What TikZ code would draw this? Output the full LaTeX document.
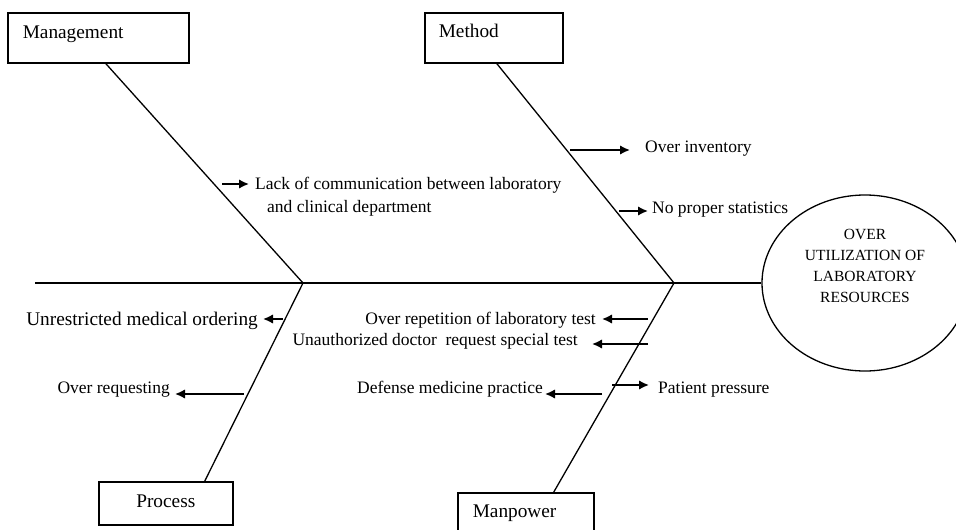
\documentclass[tikz,border=0pt]{standalone}
\usepackage{fontspec}
\setmainfont{Liberation Serif}
\usetikzlibrary{arrows.meta,shapes.geometric}

\begin{document}
\begin{tikzpicture}[x=1pt,y=-1pt,
      bone/.style={line width=1.3pt},
      catbox/.style={draw,line width=1.6pt,inner ysep=0pt,font=\fontsize{19.3}{22}\selectfont},
      cause/.style={inner sep=0pt,font=\fontsize{17.5}{23}\selectfont},
      push/.style={line width=1.9pt,-{Latex[length=10pt,width=9.5pt]}},
      goal/.style={draw,ellipse,line width=1.3pt,inner sep=0pt,minimum width=206pt,minimum height=176pt}]
    \useasboundingbox (0,0) rectangle (956,530);
    \clip (0,0) rectangle (956,530);
    % the four category boxes
    \node[catbox,anchor=north west,inner xsep=15pt,text width=151pt,align=left,
          text height=26pt,text depth=24pt] (mgmt) at (7,12) {Management};
    \node[catbox,anchor=north west,inner xsep=14pt,text width=110pt,align=left,
          text height=25pt,text depth=25pt] (meth) at (424,12) {Method};
    \node[catbox,anchor=north west,inner xsep=0pt,minimum width=134pt,
          text height=25.7pt,text depth=17.3pt] (proc) at (98,481) {Process};
    \node[catbox,anchor=north west,inner xsep=15pt,text width=106pt,align=left,
          text height=24.7pt,text depth=26pt] (manp) at (457,492) {Manpower};
    % the effect
    \node[goal] (goal) at (865,283) {};
    \node[align=center,font=\fontsize{15.5}{21}\selectfont] (goaltxt) at (865,266)
      {OVER\\UTILIZATION OF\\LABORATORY\\RESOURCES};
    % spine and bones
    \coordinate (tail) at (35,283);
    \coordinate (j1) at (303,283);
    \coordinate (j2) at (674,283);
    \draw[bone] (tail) -- (goal.west);
    \draw[bone] ([xshift=7.5pt]mgmt.south) -- (j1) -- ([xshift=39pt]proc.north);
    \draw[bone] ([xshift=3pt]meth.south) -- (j2) -- ([xshift=28pt]manp.north);
    % causes
    \node[cause,anchor=base west] (lack) at (255,189) {Lack of communication between laboratory};
    \node[cause,anchor=base west] (lack2) at (267,212) {and clinical department};
    \node[cause,anchor=base west] (inv) at (645,152) {Over inventory};
    \node[cause,anchor=base west] (stat) at (652,213) {No proper statistics};
    \node[cause,anchor=base east,font=\fontsize{19.3}{22}\selectfont] (unres) at (258,325) {Unrestricted medical ordering};
    \node[cause,anchor=base east] (req) at (170,393) {Over requesting};
    \node[cause,anchor=base east] (rep) at (596,324) {Over repetition of laboratory test};
    \node[cause,anchor=base east] (unauth) at (578,345) {Unauthorized doctor\ \ request special test};
    \node[cause,anchor=base east] (def) at (543,393) {Defense medicine practice};
    \node[cause,anchor=base west] (pat) at (658,393) {Patient pressure};
    % arrow tails next to the bones
    \coordinate (a1) at (222,184);
    \coordinate (a2) at (570,150);
    \coordinate (a3) at (619,211);
    \coordinate (a4) at (283,319);
    \coordinate (a5) at (244,394);
    \coordinate (a6) at (648,319);
    \coordinate (a7) at (648,344);
    \coordinate (a8) at (602,394);
    \coordinate (a9) at (612,385);
    \foreach \c/\t/\g in {a1/lack.west/6, a2/inv.west/15, a3/stat.west/4,
        a4/unres.east/5, a5/req.east/5, a6/rep.east/6, a7/unauth.east/14,
        a8/def.east/2, a9/pat.west/9}
      \draw[push,shorten >=\g pt] (\c) -- (\c -| \t);
  \end{tikzpicture}
\end{document}
